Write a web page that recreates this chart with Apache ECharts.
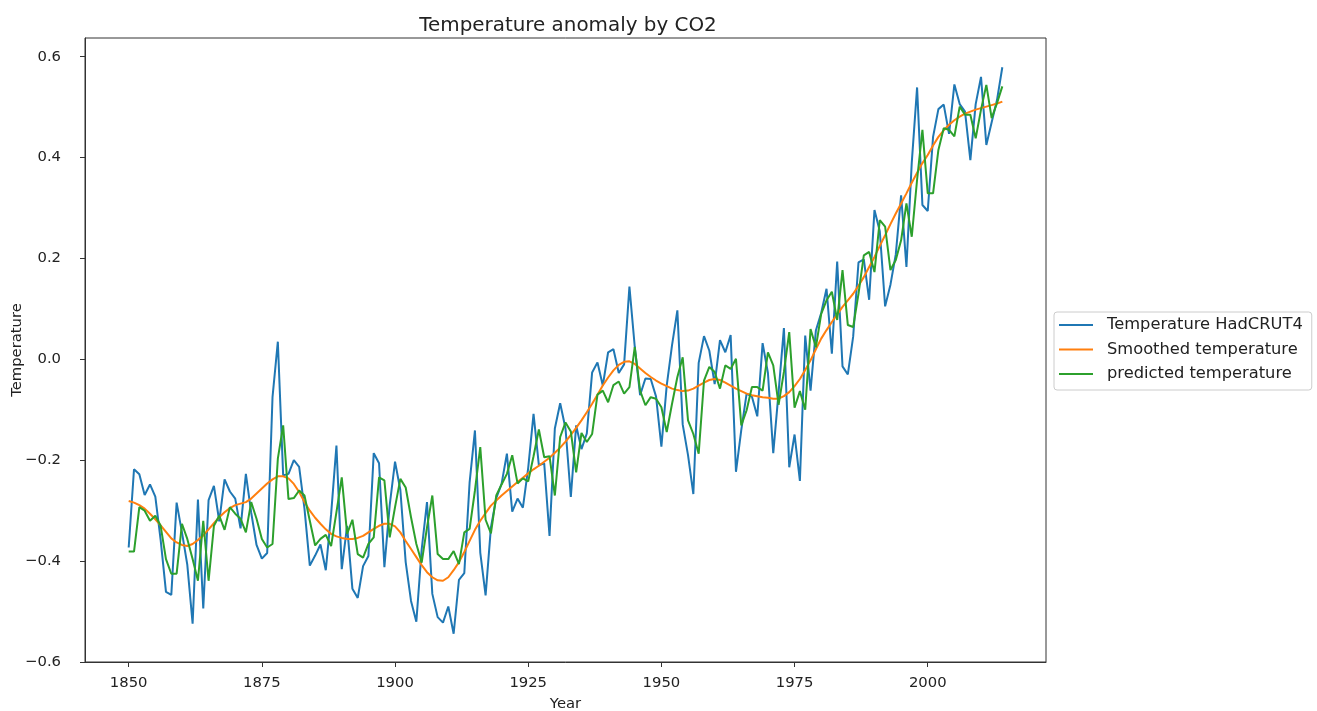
<!DOCTYPE html>
<html>
<head>
<meta charset="utf-8">
<script src="https://cdn.jsdelivr.net/npm/echarts@6/dist/echarts.min.js"></script>
<style>
  html, body { margin: 0; padding: 0; background: #fff; }
  #chart { width: 1317px; height: 711px; }
</style>
</head>
<body>
<div id="chart"></div>
<script>
// ---- data ----
const years = [
  1850,1851,1852,1853,1854,1855,1856,1857,1858,1859,
  1860,1861,1862,1863,1864,1865,1866,1867,1868,1869,
  1870,1871,1872,1873,1874,1875,1876,1877,1878,1879,
  1880,1881,1882,1883,1884,1885,1886,1887,1888,1889,
  1890,1891,1892,1893,1894,1895,1896,1897,1898,1899,
  1900,1901,1902,1903,1904,1905,1906,1907,1908,1909,
  1910,1911,1912,1913,1914,1915,1916,1917,1918,1919,
  1920,1921,1922,1923,1924,1925,1926,1927,1928,1929,
  1930,1931,1932,1933,1934,1935,1936,1937,1938,1939,
  1940,1941,1942,1943,1944,1945,1946,1947,1948,1949,
  1950,1951,1952,1953,1954,1955,1956,1957,1958,1959,
  1960,1961,1962,1963,1964,1965,1966,1967,1968,1969,
  1970,1971,1972,1973,1974,1975,1976,1977,1978,1979,
  1980,1981,1982,1983,1984,1985,1986,1987,1988,1989,
  1990,1991,1992,1993,1994,1995,1996,1997,1998,1999,
  2000,2001,2002,2003,2004,2005,2006,2007,2008,2009,
  2010,2011,2012,2013,2014
];

const hadcrut4 = [
  -0.373,-0.218,-0.228,-0.269,-0.248,-0.272,-0.358,-0.461,-0.467,-0.284,
  -0.343,-0.407,-0.524,-0.278,-0.494,-0.279,-0.251,-0.321,-0.238,-0.262,
  -0.276,-0.335,-0.227,-0.304,-0.368,-0.395,-0.384,-0.075,0.035,-0.230,
  -0.227,-0.200,-0.213,-0.296,-0.409,-0.389,-0.367,-0.418,-0.307,-0.171,
  -0.416,-0.330,-0.455,-0.473,-0.410,-0.390,-0.186,-0.206,-0.412,-0.289,
  -0.203,-0.259,-0.402,-0.479,-0.520,-0.377,-0.283,-0.465,-0.511,-0.522,
  -0.490,-0.544,-0.437,-0.424,-0.244,-0.141,-0.383,-0.468,-0.333,-0.275,
  -0.247,-0.187,-0.302,-0.276,-0.294,-0.215,-0.108,-0.210,-0.206,-0.350,
  -0.137,-0.087,-0.137,-0.273,-0.131,-0.178,-0.147,-0.026,-0.006,-0.052,
  0.014,0.020,-0.027,-0.010,0.144,0.025,-0.071,-0.038,-0.039,-0.074,
  -0.173,-0.052,0.028,0.097,-0.129,-0.190,-0.267,-0.007,0.046,0.017,
  -0.049,0.038,0.014,0.048,-0.223,-0.140,-0.068,-0.074,-0.113,0.032,
  -0.027,-0.186,-0.065,0.062,-0.214,-0.149,-0.241,0.047,-0.062,0.057,
  0.092,0.140,0.011,0.194,-0.014,-0.030,0.045,0.192,0.198,0.118,
  0.296,0.254,0.105,0.148,0.208,0.325,0.183,0.390,0.539,0.306,
  0.294,0.441,0.496,0.505,0.447,0.545,0.506,0.491,0.395,0.506,
  0.560,0.425,0.470,0.514,0.579
];

const smoothed = [
  -0.281,-0.284,-0.289,-0.296,-0.306,-0.317,-0.329,-0.342,-0.355,-0.363,
  -0.368,-0.370,-0.366,-0.358,-0.349,-0.337,-0.325,-0.313,-0.303,-0.295,
  -0.289,-0.286,-0.283,-0.276,-0.266,-0.256,-0.246,-0.238,-0.232,-0.232,
  -0.236,-0.247,-0.263,-0.283,-0.300,-0.314,-0.326,-0.337,-0.346,-0.351,
  -0.354,-0.356,-0.356,-0.354,-0.350,-0.343,-0.336,-0.330,-0.326,-0.326,
  -0.331,-0.343,-0.360,-0.376,-0.392,-0.408,-0.422,-0.432,-0.438,-0.439,
  -0.432,-0.418,-0.402,-0.382,-0.360,-0.338,-0.320,-0.305,-0.290,-0.280,
  -0.270,-0.261,-0.252,-0.243,-0.235,-0.226,-0.218,-0.211,-0.203,-0.195,
  -0.185,-0.175,-0.163,-0.150,-0.136,-0.121,-0.105,-0.088,-0.070,-0.052,
  -0.036,-0.022,-0.011,-0.005,-0.004,-0.009,-0.018,-0.027,-0.035,-0.042,
  -0.048,-0.053,-0.058,-0.061,-0.063,-0.062,-0.058,-0.052,-0.046,-0.041,
  -0.039,-0.041,-0.046,-0.052,-0.058,-0.063,-0.068,-0.071,-0.073,-0.075,
  -0.076,-0.078,-0.078,-0.073,-0.065,-0.053,-0.039,-0.021,-0.002,0.020,
  0.041,0.058,0.074,0.089,0.104,0.117,0.130,0.146,0.163,0.183,
  0.203,0.225,0.246,0.268,0.289,0.309,0.329,0.350,0.370,0.389,
  0.405,0.424,0.441,0.454,0.465,0.474,0.481,0.487,0.491,0.495,
  0.498,0.501,0.504,0.507,0.511
];

const predicted = [
  -0.381,-0.381,-0.293,-0.300,-0.320,-0.310,-0.330,-0.396,-0.425,-0.425,
  -0.326,-0.356,-0.396,-0.439,-0.320,-0.439,-0.330,-0.310,-0.338,-0.293,
  -0.306,-0.316,-0.343,-0.283,-0.316,-0.356,-0.373,-0.366,-0.197,-0.131,
  -0.277,-0.275,-0.260,-0.270,-0.320,-0.369,-0.356,-0.348,-0.370,-0.303,
  -0.234,-0.346,-0.318,-0.386,-0.393,-0.366,-0.353,-0.234,-0.240,-0.353,
  -0.293,-0.237,-0.254,-0.313,-0.366,-0.403,-0.333,-0.270,-0.386,-0.396,
  -0.396,-0.380,-0.406,-0.343,-0.336,-0.260,-0.174,-0.318,-0.345,-0.270,
  -0.248,-0.227,-0.190,-0.246,-0.236,-0.242,-0.192,-0.139,-0.194,-0.192,
  -0.270,-0.154,-0.125,-0.143,-0.224,-0.146,-0.164,-0.148,-0.070,-0.062,
  -0.085,-0.051,-0.044,-0.068,-0.055,0.024,-0.062,-0.091,-0.075,-0.078,
  -0.095,-0.144,-0.088,-0.035,0.004,-0.121,-0.148,-0.187,-0.042,-0.015,
  -0.025,-0.058,-0.012,-0.019,0.001,-0.131,-0.101,-0.055,-0.055,-0.062,
  0.014,-0.012,-0.090,-0.025,0.054,-0.096,-0.063,-0.100,0.060,0.024,
  0.090,0.117,0.134,0.078,0.177,0.068,0.064,0.130,0.206,0.213,
  0.173,0.276,0.263,0.177,0.197,0.236,0.309,0.243,0.356,0.455,
  0.329,0.329,0.415,0.458,0.455,0.442,0.501,0.485,0.485,0.438,
  0.495,0.544,0.478,0.508,0.541
];

const xTicks = [1850, 1875, 1900, 1925, 1950, 1975, 2000];
const yTicks = [-0.6, -0.4, -0.2, 0.0, 0.2, 0.4, 0.6];

const seriesNames = ['Temperature HadCRUT4', 'Smoothed temperature', 'predicted temperature'];
const seriesColors = ['#1f77b4', '#ff7f0e', '#2ca02c'];

// ---- chart ----
const pairs = (vals) => years.map((y, i) => [y, vals[i]]);
const FONT = 'DejaVu Sans';
const TXT = '#222';

const chart = echarts.init(document.getElementById('chart'), null, { renderer: 'canvas' });
chart.setOption({
  animation: false,
  backgroundColor: '#fff',
  textStyle: { fontFamily: FONT },
  title: {
    text: 'Temperature anomaly by CO2',
    left: 563,
    top: 11,
    textAlign: 'center',
    textStyle: { fontFamily: FONT, fontSize: 19.9, fontWeight: 'normal', color: TXT }
  },
  grid: {
    left: 85, right: 271, top: 38, bottom: 49,
    show: true, borderColor: '#333', borderWidth: 1, backgroundColor: 'transparent',
    containLabel: false,
    outerBoundsMode: 'none'
  },
  legend: {
    orient: 'vertical',
    left: 1054,
    top: 312,
    icon: 'rect',
    itemWidth: 34,
    itemHeight: 2,
    itemGap: 6.5,
    padding: [4, 9, 7, 5],
    backgroundColor: 'rgba(255,255,255,0.8)',
    borderColor: '#cccccc',
    borderWidth: 1,
    borderRadius: 3,
    data: seriesNames,
    textStyle: { fontFamily: FONT, fontSize: 16.3, color: TXT, lineHeight: 18, padding: [0, 0, 0, 9] }
  },
  xAxis: {
    type: 'value',
    min: 1841.8,
    max: 2022.2,
    name: 'Year',
    nameLocation: 'middle',
    nameGap: 35,
    nameMoveOverlap: false,
    nameTextStyle: { fontFamily: FONT, fontSize: 14.8, color: TXT },
    axisLine: { show: true, onZero: false, lineStyle: { color: '#333', width: 1 } },
    axisTick: { show: true, length: 5, customValues: xTicks, lineStyle: { color: '#333', width: 1 } },
    axisLabel: {
      customValues: xTicks, margin: 14, fontFamily: FONT, fontSize: 14.8, color: TXT,
      formatter: (v) => String(v)
    },
    splitLine: { show: false }
  },
  yAxis: {
    type: 'value',
    min: -0.6,
    max: 0.637,
    name: 'Temperature',
    nameLocation: 'middle',
    nameGap: 60,
    nameRotate: 90,
    nameMoveOverlap: false,
    nameTextStyle: { fontFamily: FONT, fontSize: 14.8, color: TXT },
    axisLine: { show: true, onZero: false, lineStyle: { color: '#333', width: 1 } },
    axisTick: { show: true, length: 5, customValues: yTicks, lineStyle: { color: '#333', width: 1 } },
    axisLabel: {
      customValues: yTicks, margin: 24, fontFamily: FONT, fontSize: 14.8, color: TXT,
      formatter: (v) => (v < -1e-9 ? '\u2212' : '') + Math.abs(v).toFixed(1)
    },
    splitLine: { show: false }
  },
  series: [hadcrut4, smoothed, predicted].map((vals, i) => ({
    name: seriesNames[i],
    type: 'line',
    data: pairs(vals),
    showSymbol: false,
    symbol: 'none',
    color: seriesColors[i],
    lineStyle: { color: seriesColors[i], width: 2 },
    z: 2 + i
  }))
});
</script>
</body>
</html>
